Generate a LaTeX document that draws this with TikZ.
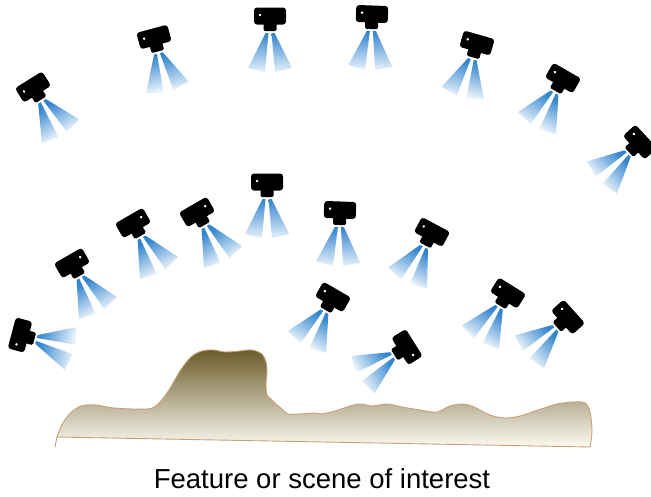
\documentclass[tikz,border=0pt]{standalone}
\usepackage{fontspec}
\setmainfont{Liberation Sans}
\begin{document}
\begin{tikzpicture}[x=1pt,y=-1pt]
\definecolor{beam}{RGB}{50,132,205}
\definecolor{beamfade}{RGB}{230,241,251}
\definecolor{rockdark}{RGB}{108,92,42}
\definecolor{rockmid}{RGB}{170,155,115}
\definecolor{rocklight}{RGB}{252,250,242}
\definecolor{rockedge}{RGB}{200,160,120}
\tikzset{
  body/.style={fill=black, rounded corners=3pt},
  mount/.style={fill=black, rounded corners=1.5pt},
  lens/.style={fill=white},
  ray/.style={top color=beam, bottom color=beamfade, shading angle=#1},
  ground/.style={draw=rockedge, line width=0.9pt, top color=rockdark, middle color=rockmid, bottom color=rocklight},
  caption/.style={font=\fontsize{27.5}{32}\selectfont, text=black}
}
% one camera: centre x, centre y, turn angle, mirror (1 or -1)
\newcommand{\camunit}[4]{%
  \begin{scope}[shift={(#1,#2)}, rotate=#3, xscale=#4]
    \shade[ray=#3] (-1.5,17) -- (-4.5,17) -- (-22,52) -- (-5,56) -- cycle;
    \shade[ray=#3] (1.5,17) -- (4.5,17) -- (22,52) -- (5,56) -- cycle;
    \path[body] (-16,-8.5) rectangle (16,8.5);
    \path[mount] (-6.5,6) rectangle (6.5,15);
    \path[lens] (-10,-1) circle (1.4);
  \end{scope}}
\useasboundingbox (0,0) rectangle (651,496);
\fill[white] (0,0) rectangle (651,496);

% the terrain
\path[ground] (55,447) -- (57,437)
  plot[smooth, tension=0.55] coordinates {
  (57,437) (62,424.5) (70,413.5) (81,406) (96,405) (114,408) (147,409)
  (158,404) (169,390) (180,371) (191,357) (202,351) (214,350) (225,352)
  (240,351) (252,350) (262,354) (266,362) (267,371) (266,384) (267,395)
  (271,399) (276,404) (282,409) (288,414) (299,414) (315,413) (321,414)
  (335,411) (350,406) (361,404) (372,406) (387,404) (402,407) (420,410)
  (437,412) (450,406) (463,404) (474,407) (490,415) (505,418) (520,416)
  (538,410) (557,404) (574,402) (585,403) (590,412) (592,431) (590,447)}
  -- cycle;

% upper arc of cameras
\camunit{33}{87}{32}{1}
\camunit{154}{37}{15}{1}
\camunit{270}{16}{0}{1}
\camunit{372}{14}{-2}{1}
\camunit{477}{43}{-16}{1}
\camunit{563}{78}{-30}{1}
\camunit{640}{142}{-47}{1}
% lower cameras
\camunit{20}{335}{75}{1}
\camunit{72}{263}{30}{-1}
\camunit{133}{223}{30}{-1}
\camunit{197}{212}{30}{-1}
\camunit{267}{182}{0}{1}
\camunit{340}{210}{-2}{1}
\camunit{432}{232}{-28}{1}
\camunit{333}{297}{-30}{1}
\camunit{407}{347}{-58}{-1}
\camunit{508}{293}{-32}{1}
\camunit{568}{317}{-48}{1}

\node[caption] (label) at (322,479) {Feature or scene of interest};
\end{tikzpicture}
\end{document}
